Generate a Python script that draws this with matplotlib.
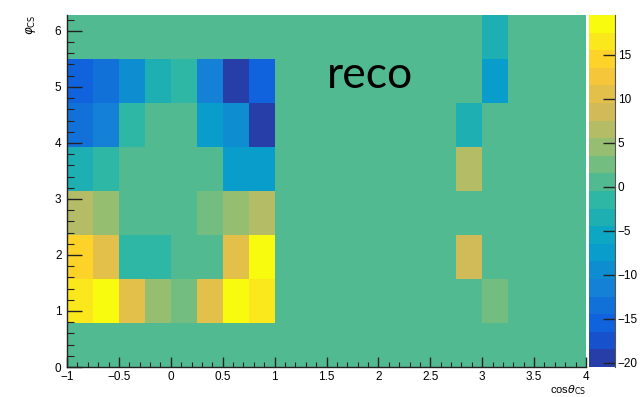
import numpy as np
import matplotlib
matplotlib.use("Agg")
import matplotlib.pyplot as plt
from matplotlib.colors import LinearSegmentedColormap, ListedColormap, BoundaryNorm
from matplotlib.ticker import MultipleLocator

# ROOT "kBird" palette
bird_stops = [0.0000, 0.1250, 0.2500, 0.3750, 0.5000, 0.6250, 0.7500, 0.8750, 1.0000]
bird_r = [0.2082, 0.0592, 0.0780, 0.0232, 0.1802, 0.5301, 0.8186, 0.9956, 0.9764]
bird_g = [0.1664, 0.3599, 0.5041, 0.6419, 0.7178, 0.7492, 0.7328, 0.7862, 0.9832]
bird_b = [0.5293, 0.8684, 0.8385, 0.7914, 0.6425, 0.4662, 0.3499, 0.1968, 0.0539]
bird = LinearSegmentedColormap.from_list(
    "bird", list(zip(bird_stops, zip(bird_r, bird_g, bird_b))), N=255)

# binning: cos(theta_CS) in 20 bins over [-1, 4], phi_CS in 8 bins over [0, 2pi]
x_edges = np.linspace(-1.0, 4.0, 21)
y_edges = np.linspace(0.0, 2 * np.pi, 9)

# bin contents, one list per phi row (bottom to top), 20 cos(theta) bins each
row0 = [0, 0, 0, 0, 0, 0, 0, 0, 0, 0, 0, 0, 0, 0, 0, 0, 0, 0, 0, 0]
row1 = [16.5, 19, 10, 5, 3, 10, 19, 17, 0, 0, 0, 0, 0, 0, 0, 0, 3, 0, 0, 0]
row2 = [14, 11, -2.5, -2.5, 0, 0, 10, 19, 0, 0, 0, 0, 0, 0, 0, 8, 0, 0, 0, 0]
row3 = [7, 5, 0, 0, 0, 3, 5, 7, 0, 0, 0, 0, 0, 0, 0, 0, 0, 0, 0, 0]
row4 = [-4, -2.5, 0, 0, 0, 0, -8, -8, 0, 0, 0, 0, 0, 0, 0, 7, 0, 0, 0, 0]
row5 = [-14, -12, -2.5, 0, 0, -8, -9, -19.5, 0, 0, 0, 0, 0, 0, 0, -3, 0, 0, 0, 0]
row6 = [-16, -14, -10, -4, -2.5, -11, -20.5, -16, 0, 0, 0, 0, 0, 0, 0, 0, -8, 0, 0, 0]
row7 = [0, 0, 0, 0, 0, 0, 0, 0, 0, 0, 0, 0, 0, 0, 0, 0, -3, 0, 0, 0]
counts = np.array([row0, row1, row2, row3, row4, row5, row6, row7])

z_min, z_max, n_levels = -20.5, 19.5, 20
levels = np.linspace(z_min, z_max, n_levels + 1)

# contour level i takes palette entry int((i + 0.99) * ncolors / nlevels), as COLZ does
n_pal = 255
band_colors = [bird(min(int((i + 0.99) * n_pal / n_levels), n_pal - 1))
               for i in range(n_levels)]
band_cmap = ListedColormap(band_colors)
norm = BoundaryNorm(levels, n_levels)

fig = plt.figure(figsize=(6.41, 3.97), dpi=100)
plt.rcParams["font.family"] = ["Liberation Sans", "DejaVu Sans"]

ax = fig.add_axes([67 / 641, 1 - 367 / 397, (586 - 67) / 641, (367 - 15) / 397])
mesh = ax.pcolormesh(x_edges, y_edges, counts, cmap=band_cmap, norm=norm,
                     edgecolors="none", antialiased=False)
ax.set_xlim(-1, 4)
ax.set_ylim(0, y_edges[-1])

for side in ("top", "right"):
    ax.spines[side].set_visible(False)
for side in ("left", "bottom"):
    ax.spines[side].set_color("#222222")
    ax.spines[side].set_linewidth(1.0)

ax.xaxis.set_minor_locator(MultipleLocator(0.1))
ax.yaxis.set_major_locator(MultipleLocator(1))
ax.yaxis.set_minor_locator(MultipleLocator(0.2))
ax.set_xticks(np.arange(-1, 4.01, 0.5))
ax.set_xticklabels(["\u22121", "\u22120.5", "0", "0.5", "1", "1.5", "2", "2.5", "3", "3.5", "4"])
ax.tick_params(axis="x", which="major", direction="in", length=7, width=1,
               labelsize=8.5, pad=3, color="#222222")
ax.tick_params(axis="x", which="minor", direction="in", length=3.6, width=0.8,
               color="#222222")
ax.tick_params(axis="y", which="major", direction="in", length=10.5, width=1,
               labelsize=8.5, pad=4, color="#222222")
ax.tick_params(axis="y", which="minor", direction="in", length=5, width=0.8,
               color="#222222")

ax.set_xlabel(r"cos$\theta_{\rm CS}$", loc="right", fontsize=8, labelpad=0)
ax.set_ylabel(r"$\varphi_{\rm CS}$", loc="top", fontsize=8.5, labelpad=12)

ax.text(1.50, 4.98, "reco", fontsize=32, family=["Lato", "DejaVu Sans"],
        color="black", va="baseline", ha="left")

# palette axis
cax = fig.add_axes([589 / 641, 1 - 367 / 397, (615 - 589) / 641, (367 - 15) / 397])
cb = fig.colorbar(mesh, cax=cax, ticks=[-20, -15, -10, -5, 0, 5, 10, 15])
cb.outline.set_visible(False)
cb.ax.set_yticklabels(["\u221220", "\u221215", "\u221210", "\u22125", "0", "5", "10", "15"])
cb.ax.tick_params(direction="in", length=8.5, width=1, labelsize=8.5, pad=2,
                  color="#222222")
cb.ax.minorticks_off()
cax.spines["right"].set_visible(True)
cax.spines["right"].set_color("#555555")

fig.savefig("out.png", dpi=100)
